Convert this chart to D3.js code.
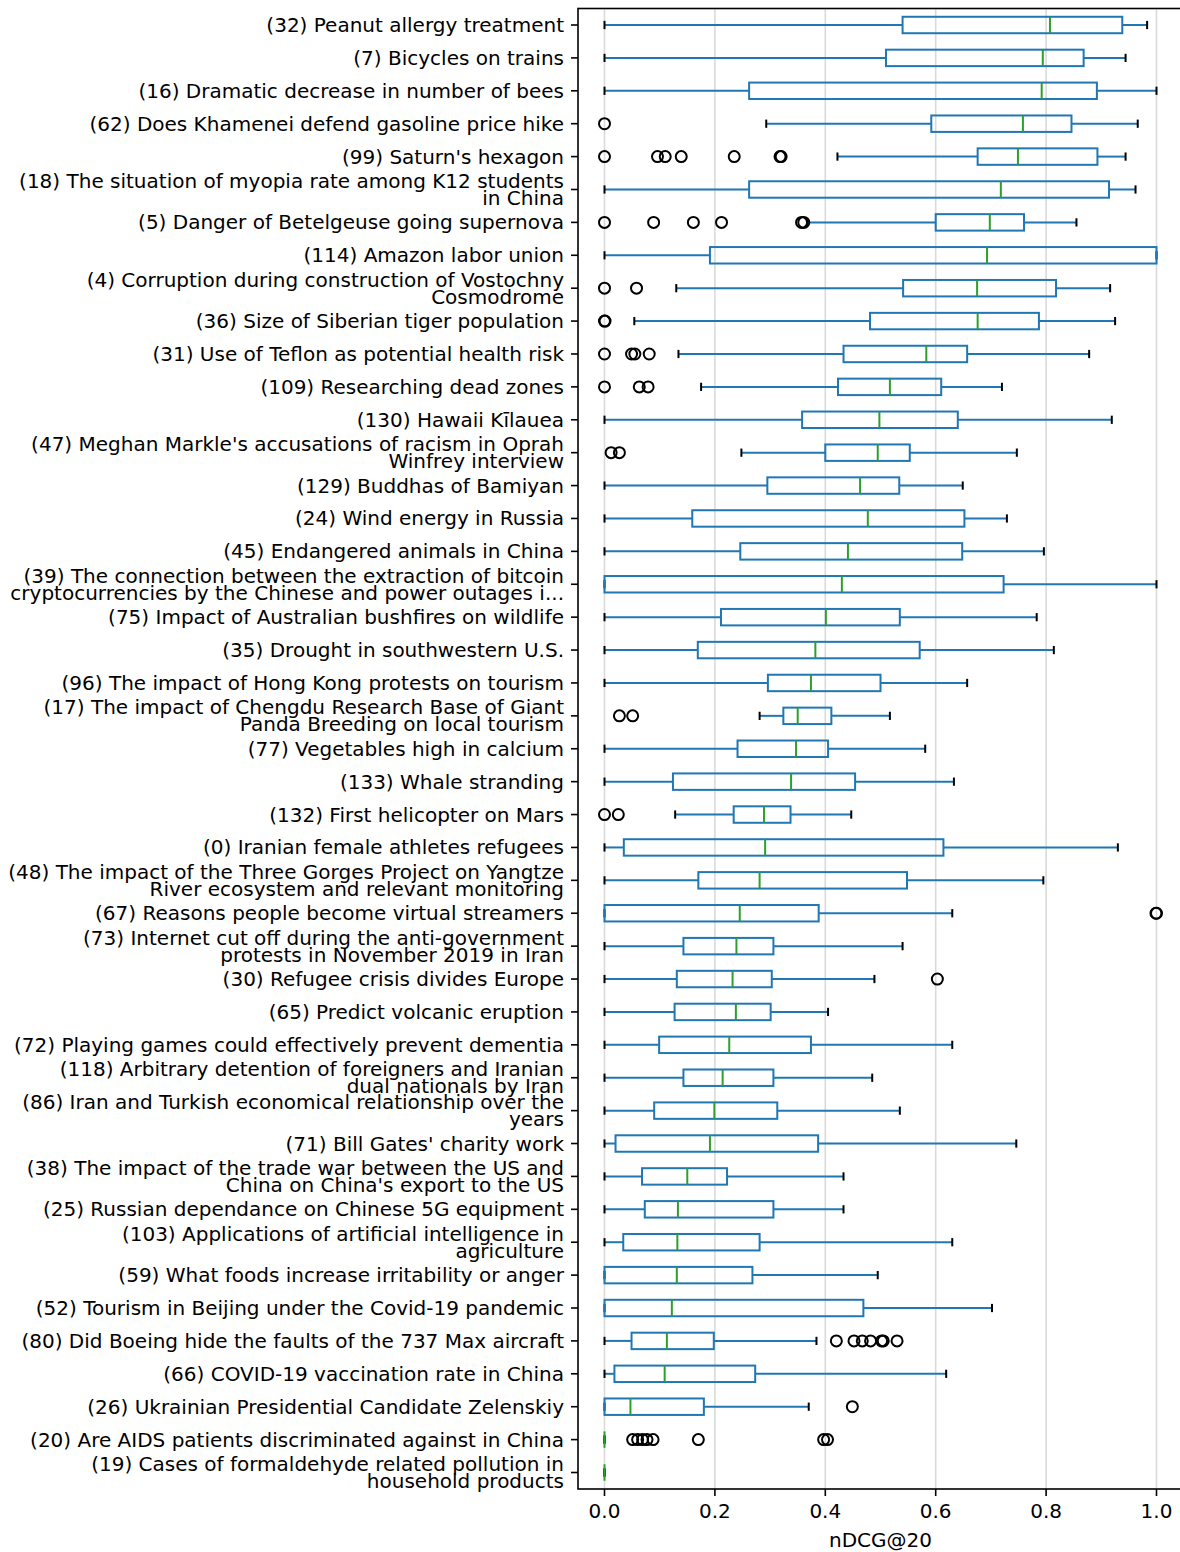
<!DOCTYPE html>
<html>
<head>
<meta charset="utf-8">
<script src="https://cdn.jsdelivr.net/npm/d3@7"></script>
<style>
  body { margin: 0; background: #fff; }
  svg text { font-family: "DejaVu Sans", sans-serif; fill: #000; }
</style>
</head>
<body>
<div id="chart"></div>
<script>
// topics, top to bottom
const labels = [
  "(32) Peanut allergy treatment",
  "(7) Bicycles on trains",
  "(16) Dramatic decrease in number of bees",
  "(62) Does Khamenei defend gasoline price hike",
  "(99) Saturn's hexagon",
  "(18) The situation of myopia rate among K12 students\nin China",
  "(5) Danger of Betelgeuse going supernova",
  "(114) Amazon labor union",
  "(4) Corruption during construction of Vostochny\nCosmodrome",
  "(36) Size of Siberian tiger population",
  "(31) Use of Teflon as potential health risk",
  "(109) Researching dead zones",
  "(130) Hawaii Kīlauea",
  "(47) Meghan Markle's accusations of racism in Oprah\nWinfrey interview",
  "(129) Buddhas of Bamiyan",
  "(24) Wind energy in Russia",
  "(45) Endangered animals in China",
  "(39) The connection between the extraction of bitcoin\ncryptocurrencies by the Chinese and power outages i...",
  "(75) Impact of Australian bushfires on wildlife",
  "(35) Drought in southwestern U.S.",
  "(96) The impact of Hong Kong protests on tourism",
  "(17) The impact of Chengdu Research Base of Giant\nPanda Breeding on local tourism",
  "(77) Vegetables high in calcium",
  "(133) Whale stranding",
  "(132) First helicopter on Mars",
  "(0) Iranian female athletes refugees",
  "(48) The impact of the Three Gorges Project on Yangtze\nRiver ecosystem and relevant monitoring",
  "(67) Reasons people become virtual streamers",
  "(73) Internet cut off during the anti-government\nprotests in November 2019 in Iran",
  "(30) Refugee crisis divides Europe",
  "(65) Predict volcanic eruption",
  "(72) Playing games could effectively prevent dementia",
  "(118) Arbitrary detention of foreigners and Iranian\ndual nationals by Iran",
  "(86) Iran and Turkish economical relationship over the\nyears",
  "(71) Bill Gates' charity work",
  "(38) The impact of the trade war between the US and\nChina on China's export to the US",
  "(25) Russian dependance on Chinese 5G equipment",
  "(103) Applications of artificial intelligence in\nagriculture",
  "(59) What foods increase irritability or anger",
  "(52) Tourism in Beijing under the Covid-19 pandemic",
  "(80) Did Boeing hide the faults of the 737 Max aircraft",
  "(66) COVID-19 vaccination rate in China",
  "(26) Ukrainian Presidential Candidate Zelenskiy",
  "(20) Are AIDS patients discriminated against in China",
  "(19) Cases of formaldehyde related pollution in\nhousehold products"
];

const whiskerLo = [0, 0, 0, 0.293, 0.422, 0, 0.367, 0, 0.130, 0.054, 0.134, 0.175, 0, 0.248, 0, 0,
  0, 0, 0, 0, 0, 0.281, 0, 0, 0.128, 0, 0, 0, 0, 0, 0, 0, 0, 0, 0, 0, 0, 0, 0, 0, 0, 0, 0, 0, 0];
const q1 = [0.540, 0.510, 0.262, 0.592, 0.676, 0.262, 0.600, 0.191, 0.541, 0.481, 0.433, 0.423, 0.358, 0.400, 0.295, 0.159,
  0.246, 0, 0.211, 0.169, 0.296, 0.324, 0.241, 0.124, 0.234, 0.035, 0.170, 0, 0.143, 0.131, 0.127, 0.099,
  0.143, 0.090, 0.020, 0.068, 0.073, 0.034, 0, 0, 0.049, 0.018, 0, 0, 0];
const median = [0.807, 0.794, 0.792, 0.758, 0.749, 0.718, 0.698, 0.693, 0.675, 0.676, 0.583, 0.517, 0.498, 0.495, 0.463, 0.477,
  0.441, 0.430, 0.401, 0.382, 0.374, 0.350, 0.347, 0.338, 0.289, 0.291, 0.281, 0.245, 0.239, 0.232, 0.238, 0.226,
  0.214, 0.199, 0.191, 0.150, 0.133, 0.132, 0.131, 0.122, 0.113, 0.109, 0.047, 0, 0];
const q3 = [0.938, 0.868, 0.892, 0.846, 0.893, 0.914, 0.760, 1.0, 0.818, 0.787, 0.657, 0.610, 0.640, 0.553, 0.534, 0.652,
  0.648, 0.723, 0.535, 0.571, 0.500, 0.411, 0.405, 0.454, 0.337, 0.614, 0.548, 0.388, 0.306, 0.303, 0.301, 0.374,
  0.306, 0.313, 0.387, 0.222, 0.306, 0.281, 0.268, 0.469, 0.198, 0.273, 0.180, 0, 0];
const whiskerHi = [0.983, 0.944, 1.0, 0.966, 0.944, 0.962, 0.855, 1.0, 0.916, 0.925, 0.878, 0.720, 0.919, 0.747, 0.649, 0.729,
  0.796, 1.0, 0.783, 0.814, 0.657, 0.517, 0.581, 0.633, 0.447, 0.930, 0.795, 0.630, 0.540, 0.489, 0.405, 0.630,
  0.485, 0.535, 0.746, 0.433, 0.433, 0.630, 0.495, 0.702, 0.384, 0.619, 0.370, 0, 0];
const outliers = [
  [], [], [], [0],
  [0, 0.096, 0.110, 0.139, 0.235, 0.318, 0.320],
  [],
  [0, 0.089, 0.161, 0.212, 0.357, 0.361],
  [],
  [0, 0.058],
  [0, 0.001],
  [0, 0.049, 0.055, 0.081],
  [0, 0.063, 0.079],
  [],
  [0.012, 0.027],
  [], [], [], [], [], [], [],
  [0.027, 0.051],
  [], [],
  [0, 0.025],
  [], [],
  [0.999, 1.0],
  [],
  [0.603],
  [], [], [], [], [], [], [], [], [], [],
  [0.420, 0.452, 0.467, 0.482, 0.502, 0.505, 0.530],
  [],
  [0.449],
  [0.051, 0.060, 0.069, 0.077, 0.088, 0.170, 0.397, 0.404],
  []
];
const xTicks = [0, 0.2, 0.4, 0.6, 0.8, 1.0];

const width = 1180;
const height = 1552;
const plotLeft = 578, plotRight = 1182, plotTop = 8.5, plotBottom = 1489;

const svg = d3.select('#chart')
  .append('svg')
  .attr('width', width)
  .attr('height', height);

const x = d3.scaleLinear().domain([0, 1]).range([604.5, 1156.5]);
const y = d3.scalePoint().domain(d3.range(labels.length)).range([25, 1472.5]);
const step = y.step();
const boxH = step * 0.25;
const capH = step * 0.125;

// vertical grid
svg.append('g').selectAll('line')
  .data(xTicks)
  .enter().append('line')
  .attr('x1', d => x(d)).attr('x2', d => x(d))
  .attr('y1', plotTop).attr('y2', plotBottom)
  .attr('stroke', '#dadada')
  .attr('stroke-width', 1.6);

const rows = svg.append('g').selectAll('g')
  .data(labels.map((l, i) => i))
  .enter().append('g');

// whiskers
rows.append('line')
  .attr('x1', i => x(whiskerLo[i])).attr('x2', i => x(q1[i]))
  .attr('y1', i => y(i)).attr('y2', i => y(i))
  .attr('stroke', '#1f77b4').attr('stroke-width', 2);
rows.append('line')
  .attr('x1', i => x(q3[i])).attr('x2', i => x(whiskerHi[i]))
  .attr('y1', i => y(i)).attr('y2', i => y(i))
  .attr('stroke', '#1f77b4').attr('stroke-width', 2);

// caps
[whiskerLo, whiskerHi].forEach(arr => {
  rows.append('line')
    .attr('x1', i => x(arr[i])).attr('x2', i => x(arr[i]))
    .attr('y1', i => y(i) - capH).attr('y2', i => y(i) + capH)
    .attr('stroke', '#000').attr('stroke-width', 2);
});

// boxes
rows.append('rect')
  .attr('x', i => x(q1[i]))
  .attr('width', i => x(q3[i]) - x(q1[i]))
  .attr('y', i => y(i) - boxH)
  .attr('height', boxH * 2)
  .attr('fill', 'none')
  .attr('stroke', '#1f77b4').attr('stroke-width', 2);

// medians
rows.append('line')
  .attr('x1', i => x(median[i])).attr('x2', i => x(median[i]))
  .attr('y1', i => y(i) - boxH).attr('y2', i => y(i) + boxH)
  .attr('stroke', '#2ca02c').attr('stroke-width', 2);

// fliers
rows.each(function(i) {
  d3.select(this).selectAll('circle')
    .data(outliers[i])
    .enter().append('circle')
    .attr('cx', d => x(d))
    .attr('cy', y(i))
    .attr('r', 5.5)
    .attr('fill', 'none')
    .attr('stroke', '#000')
    .attr('stroke-width', 2);
});

// frame
svg.append('rect')
  .attr('x', plotLeft).attr('y', plotTop)
  .attr('width', plotRight - plotLeft).attr('height', plotBottom - plotTop)
  .attr('fill', 'none').attr('stroke', '#000').attr('stroke-width', 1.6);

// y axis ticks and labels
const yTicks = svg.append('g');
labels.forEach((lab, i) => {
  yTicks.append('line')
    .attr('x1', plotLeft - 7).attr('x2', plotLeft)
    .attr('y1', y(i)).attr('y2', y(i))
    .attr('stroke', '#000').attr('stroke-width', 1.6);
  const lines = lab.split('\n');
  const t = yTicks.append('text')
    .attr('text-anchor', 'end')
    .attr('font-size', 20)
    .attr('dominant-baseline', 'central');
  lines.forEach((ln, k) => {
    t.append('tspan')
      .attr('x', plotLeft - 14)
      .attr('y', y(i) + (k - (lines.length - 1) / 2) * 17)
      .text(ln);
  });
});

// x axis
const xAxis = svg.append('g');
xTicks.forEach(v => {
  xAxis.append('line')
    .attr('x1', x(v)).attr('x2', x(v))
    .attr('y1', plotBottom).attr('y2', plotBottom + 7)
    .attr('stroke', '#000').attr('stroke-width', 1.6);
  xAxis.append('text')
    .attr('x', x(v)).attr('y', plotBottom + 14)
    .attr('text-anchor', 'middle')
    .attr('dominant-baseline', 'hanging')
    .attr('font-size', 20)
    .text(v.toFixed(1));
});

svg.append('text')
  .attr('x', (x(0) + x(1)) / 2)
  .attr('y', 1540)
  .attr('text-anchor', 'middle')
  .attr('dominant-baseline', 'central')
  .attr('font-size', 20)
  .text('nDCG@20');
</script>
</body>
</html>
